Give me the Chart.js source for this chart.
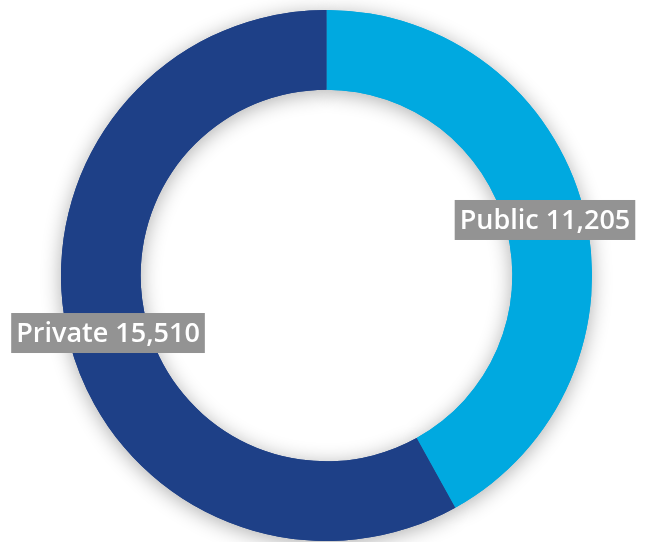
<!DOCTYPE html>
<html lang="en">
<head>
    <meta charset="UTF-8">
    <title>Public vs Private</title>
    <script src="https://cdn.jsdelivr.net/npm/chart.js"></script>
    <style>
        html, body { margin: 0; padding: 0; background: #fff; }
        #wrap { width: 651px; height: 542px; }
    </style>
</head>
<body>
    <div id="wrap"><canvas id="donut"></canvas></div>
    <script>
        const categories = ['Public', 'Private'];
        const values = [11205, 15510];
        const sliceColors = ['#00A9E0', '#1E4087'];

        // shadow under the ring: draw the arcs once with a shadow before the normal pass
        const ringShadow = {
            id: 'ringShadow',
            beforeDatasetsDraw(chart) {
                const ctx = chart.ctx;
                ctx.save();
                ctx.shadowColor = 'rgba(0, 0, 0, 0.32)';
                ctx.shadowBlur = 20;
                ctx.shadowOffsetX = 0;
                ctx.shadowOffsetY = 3;
                chart.getDatasetMeta(0).data.forEach(arc => arc.draw(ctx));
                ctx.restore();
            }
        };

        // grey boxes with the name and value on each slice
        const sliceLabels = {
            id: 'sliceLabels',
            afterDatasetsDraw(chart) {
                const ctx = chart.ctx;
                ctx.save();
                ctx.font = '600 27px "Open Sans", sans-serif';
                ctx.textAlign = 'center';
                ctx.textBaseline = 'middle';
                chart.getDatasetMeta(0).data.forEach((arc, i) => {
                    const p = arc.tooltipPosition();
                    const text = categories[i] + ' ' + values[i].toLocaleString('en-US');
                    const w = ctx.measureText(text).width + 10;
                    const h = 40;
                    ctx.fillStyle = '#939393';
                    ctx.fillRect(p.x - w / 2, p.y - h / 2 + 1, w, h);
                    ctx.fillStyle = '#ffffff';
                    ctx.fillText(text, p.x, p.y + 2);
                });
                ctx.restore();
            }
        };

        new Chart(document.getElementById('donut'), {
            type: 'doughnut',
            data: {
                labels: categories,
                datasets: [{
                    data: values,
                    backgroundColor: sliceColors,
                    borderWidth: 0
                }]
            },
            options: {
                responsive: true,
                maintainAspectRatio: false,
                animation: false,
                cutout: '70%',
                layout: { padding: { top: 10, bottom: 1, left: 2, right: 0 } },
                plugins: {
                    legend: { display: false },
                    tooltip: { enabled: false }
                }
            },
            plugins: [ringShadow, sliceLabels]
        });
    </script>
</body>
</html>
